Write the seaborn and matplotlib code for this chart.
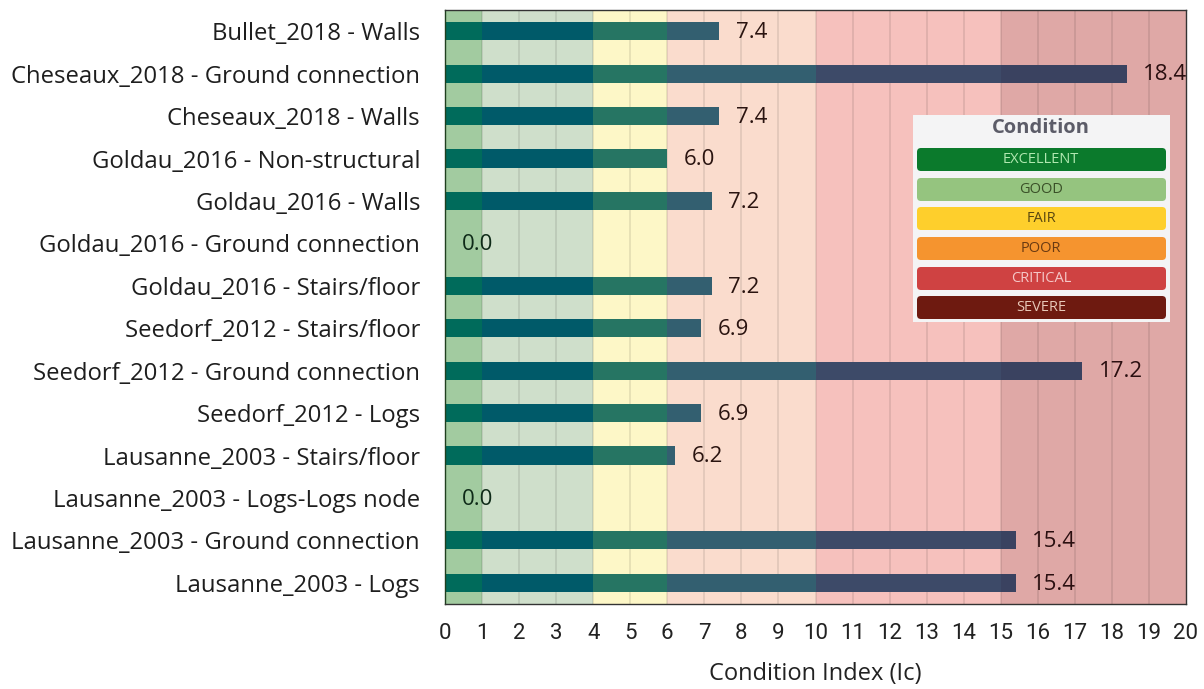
import numpy as np
import pandas as pd
import matplotlib
matplotlib.use("Agg")
import matplotlib.pyplot as plt
import seaborn as sns
from matplotlib.patches import FancyBboxPatch

# ---------------- data ----------------
elements = [
    "Bullet_2018 - Walls",
    "Cheseaux_2018 - Ground connection",
    "Cheseaux_2018 - Walls",
    "Goldau_2016 - Non-structural",
    "Goldau_2016 - Walls",
    "Goldau_2016 - Ground connection",
    "Goldau_2016 - Stairs/floor",
    "Seedorf_2012 - Stairs/floor",
    "Seedorf_2012 - Ground connection",
    "Seedorf_2012 - Logs",
    "Lausanne_2003 - Stairs/floor",
    "Lausanne_2003 - Logs-Logs node",
    "Lausanne_2003 - Ground connection",
    "Lausanne_2003 - Logs",
]
condition_index = [7.4, 18.4, 7.4, 6.0, 7.2, 0.0, 7.2, 6.9, 17.2, 6.9, 6.2, 0.0, 15.4, 15.4]

zone_edges = [0, 1, 4, 6, 10, 15, 20]
zone_bg = ["#a2cba0", "#cfdfcb", "#fdf7c7", "#fadccd", "#f6c1bd", "#dfa8a6"]
zone_bar = ["#006b5b", "#005a69", "#267563", "#335f70", "#3d4a68", "#3a4260"]
zone_text = ["#0e2a18", "#0e2a18", "#2a2410", "#2a1410", "#2a1010", "#2a0f10"]

legend_labels = ["EXCELLENT", "GOOD", "FAIR", "POOR", "CRITICAL", "SEVERE"]
legend_fill = ["#0b7a2c", "#95c47f", "#fecf2c", "#f5942f", "#cf4242", "#6e1a10"]
legend_txt = ["#b0e8b0", "#3a5028", "#5a4810", "#6a3a12", "#f5c8c8", "#e8c8b8"]

df = pd.DataFrame({"element": elements, "ic": condition_index})

# ---------------- figure ----------------
sns.set_theme(style="white")
plt.rcParams["font.family"] = ["Open Sans", "DejaVu Sans"]

fig = plt.figure(figsize=(12.04, 6.89), dpi=100)
ax = fig.add_axes([445 / 1204, 1 - 604 / 689, 741 / 1204, 594 / 689])

# background zones
for i in range(len(zone_bg)):
    ax.axvspan(zone_edges[i], zone_edges[i + 1], color=zone_bg[i], zorder=0, lw=0)
# grid lines
for g in range(1, 20):
    ax.axvline(g, color="#000000", alpha=0.10, lw=1.2, zorder=0.5)

# segmented bars: draw from outermost zone to innermost
for i in range(len(zone_bar) - 1, -1, -1):
    sub = df.copy()
    sub["seg"] = np.minimum(sub["ic"], zone_edges[i + 1])
    sns.barplot(data=sub, x="seg", y="element", order=elements, orient="h",
                color=zone_bar[i], saturation=1, width=0.43, ax=ax, zorder=2,
                linewidth=0, errorbar=None)

# value labels
for k, v in enumerate(condition_index):
    xt = v + 0.45
    zi = min(np.searchsorted(zone_edges, xt, side="right") - 1, 5)
    ax.text(xt, k + 0.03, f"{v:.1f}", va="center", ha="left", fontsize=16,
            color=zone_text[zi], zorder=3)

ax.set_xlim(0, 20)
ax.set_ylim(len(elements) - 0.5, -0.5)
ax.set_xticks(range(0, 21))
ax.set_xticklabels([str(t) for t in range(0, 21)],
                   fontsize=16, family=["Liberation Sans Narrow", "Roboto", "DejaVu Sans"],
                   color="#222222")
ax.tick_params(axis="x", length=0, pad=14)
ax.tick_params(axis="y", length=0, pad=18, labelsize=17.2, labelcolor="#1e1e1e")
ax.set_ylabel("")
ax.set_xlabel("Condition Index (Ic)", fontsize=17, color="#222222", labelpad=13)
for s in ax.spines.values():
    s.set_color("#333333")
    s.set_linewidth(1.0)
    s.set_visible(True)
ax.spines["left"].set_color("#1f3f1f")

# ---------------- condition legend panel ----------------
lax = fig.add_axes([913 / 1204, 1 - 322 / 689, 257 / 1204, 207 / 689])
lax.set_xlim(0, 257)
lax.set_ylim(207, 0)
lax.axis("off")
lax.add_patch(plt.Rectangle((0, 0), 257, 207, color="#f4f4f5", zorder=0))
lax.text(128, 13, "Condition", ha="center", va="center", fontsize=14.5,
         fontweight="bold", color="#5c5c68")
row_tops = [32, 62, 91, 121, 151, 180]
for lab, fc, tc, top in zip(legend_labels, legend_fill, legend_txt, row_tops):
    lax.add_patch(FancyBboxPatch((4, top + 1), 249, 23,
                                 boxstyle="round,pad=0,rounding_size=4",
                                 facecolor=fc, edgecolor="none", zorder=1))
    lax.text(128, top + 12.5, lab, ha="center", va="center", fontsize=10.5,
             color=tc, zorder=2)

fig.savefig("out.png", dpi=100)
